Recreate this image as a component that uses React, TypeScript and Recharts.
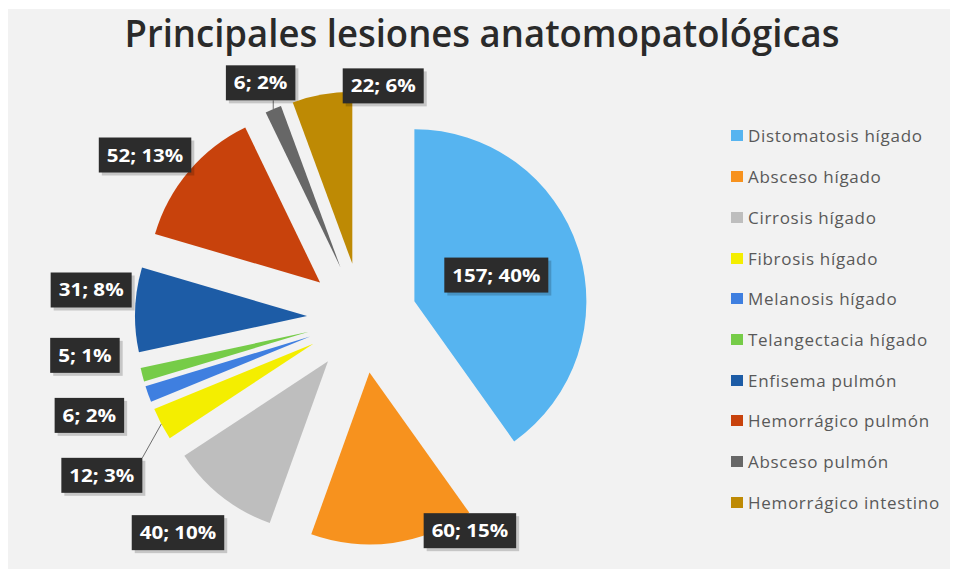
import React from 'react';
import { PieChart, Pie, Cell, Sector, Legend } from 'recharts';

const TITLE = 'Principales lesiones anatomopatológicas';

const CATEGORIES = [
  'Distomatosis hígado',
  'Absceso hígado',
  'Cirrosis hígado',
  'Fibrosis hígado',
  'Melanosis hígado',
  'Telangectacia hígado',
  'Enfisema pulmón',
  'Hemorrágico pulmón',
  'Absceso pulmón',
  'Hemorrágico intestino',
];

const VALUES = [157, 60, 40, 12, 6, 5, 31, 52, 6, 22];

const COLORS = [
  '#56B4F0',
  '#F7921E',
  '#BEBEBE',
  '#F4EE00',
  '#3F7FE0',
  '#76CC48',
  '#1D5CA6',
  '#C8420C',
  '#676767',
  '#BE8A04',
];

// label placement tweaks (dx, dy) relative to the computed outside-end anchor
const LABEL_NUDGE: [number, number][] = [
  [0, 0],
  [74, -34],
  [-30, 19],
  [-40, 41],
  [-38, 14],
  [-36, -25],
  [-22, -19],
  [-27, -2],
  [-4, -6],
  [65, 13],
];
const LEADER_LINES = [3, 8];

const data = CATEGORIES.map((name, i) => ({ name, value: VALUES[i] }));

const RAD = Math.PI / 180;
const EXPLODE = 55;
const FONT = '"Open Sans", "Noto Sans", "DejaVu Sans", sans-serif';

function renderSlice(props: any) {
  const { cx, cy, midAngle, outerRadius, startAngle, endAngle, index, value, percent } = props;
  const ux = Math.cos(-midAngle * RAD);
  const uy = Math.sin(-midAngle * RAD);
  const ex = cx + EXPLODE * ux;
  const ey = cy + EXPLODE * uy;
  const text = `${value}; ${Math.round(percent * 100)}%`;
  let lx: number;
  let ly: number;
  if (percent > 0.3) {
    lx = ex + outerRadius * 0.5 * ux;
    ly = ey + outerRadius * 0.5 * uy;
  } else {
    lx = ex + (outerRadius + 22) * ux;
    ly = ey + (outerRadius + 22) * uy;
  }
  lx += LABEL_NUDGE[index][0];
  ly += LABEL_NUDGE[index][1];
  const w = 11.5 * text.length + 12;
  const h = 35;
  const x0 = lx - w / 2;
  const y0 = ly - h / 2;
  const ax = ex + outerRadius * ux;
  const ay = ey + outerRadius * uy;
  const nx = Math.min(Math.max(ax, x0), x0 + w);
  const ny = Math.min(Math.max(ay, y0), y0 + h);
  return (
    <g key={`slice-${index}`}>
      <Sector
        cx={ex}
        cy={ey}
        innerRadius={0}
        outerRadius={outerRadius}
        startAngle={startAngle}
        endAngle={endAngle}
        fill={COLORS[index]}
        stroke="none"
      />
      {LEADER_LINES.includes(index) && (
        <line x1={nx} y1={ny} x2={ax} y2={ay} stroke="#6e6e6e" strokeWidth={1} />
      )}
      <rect x={x0 + 3} y={y0 + 3} width={w} height={h} fill="rgba(0,0,0,0.18)" />
      <rect x={x0} y={y0} width={w} height={h} fill="#2c2c2c" />
      <text
        x={lx}
        y={ly + 6.5}
        textAnchor="middle"
        fill="#ffffff"
        fontFamily={FONT}
        fontWeight={700}
        fontSize={18}
        textLength={w - 16}
        lengthAdjust="spacingAndGlyphs"
      >
        {text}
      </text>
    </g>
  );
}

function renderLegend() {
  return (
    <div style={{ width: 225 }}>
      {CATEGORIES.map((name, i) => (
        <div
          key={name}
          style={{ height: 40.7, display: 'flex', alignItems: 'center', whiteSpace: 'nowrap' }}
        >
          <span
            style={{
              display: 'inline-block',
              width: 12,
              height: 11,
              background: COLORS[i],
              marginRight: 5,
            }}
          />
          <span style={{ fontFamily: FONT, fontSize: 17, color: '#595959', letterSpacing: 0.7 }}>{name}</span>
        </div>
      ))}
    </div>
  );
}

export default function App() {
  return (
    <div style={{ position: 'absolute', left: 0, top: 0, width: 957, height: 569, background: '#ffffff', overflow: 'hidden' }}>
      <div style={{ position: 'absolute', left: 8, top: 9, width: 942, height: 560, background: '#f2f2f2' }} />
      <svg style={{ position: 'absolute', left: 0, top: 0 }} width={957} height={80}>
        <text
          x={482}
          y={47}
          textAnchor="middle"
          fontFamily={FONT}
          fontWeight={600}
          fontSize={37}
          fill="#2a2a2a"
          textLength={715}
          lengthAdjust="spacingAndGlyphs"
        >
          {TITLE}
        </text>
      </svg>
      <div style={{ position: 'absolute', left: 0, top: 0 }}>
        <PieChart width={957} height={569} margin={{ top: 0, right: 0, bottom: 0, left: 0 }}>
          <Pie
            data={data}
            dataKey="value"
            nameKey="name"
            cx={362}
            cy={318}
            outerRadius={172}
            innerRadius={0}
            startAngle={90}
            endAngle={-270}
            stroke="none"
            label={renderSlice}
            labelLine={false}
            isAnimationActive={false}
          >
            {data.map((d) => (
              <Cell key={d.name} fill="transparent" />
            ))}
          </Pie>
          <Legend
            layout="vertical"
            align="right"
            verticalAlign="middle"
            content={renderLegend}
            wrapperStyle={{ left: 731, right: 'auto', top: 115.6, bottom: 'auto', width: 225 }}
          />
        </PieChart>
      </div>
    </div>
  );
}
